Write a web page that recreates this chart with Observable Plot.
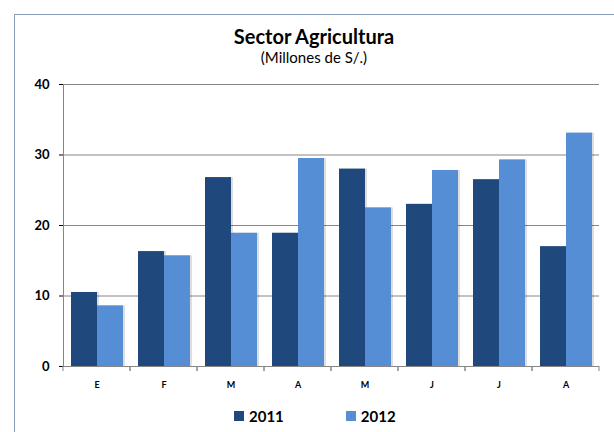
<!DOCTYPE html>
<html><head><meta charset="utf-8">
<script src="https://cdn.jsdelivr.net/npm/d3@7"></script>
<script src="https://cdn.jsdelivr.net/npm/@observablehq/plot@0.6"></script>
<style>
html,body{margin:0;padding:0;background:#fff;overflow:hidden;}
#wrap{position:relative;width:614px;height:432px;overflow:hidden;font-family:Lato,"Open Sans",sans-serif;background:#fff;}
#border{position:absolute;left:14px;top:13.5px;width:700px;height:600px;border:1.5px solid #8a9db8;box-sizing:border-box;}
#chart{position:absolute;left:0;top:0;}
#title{position:absolute;left:0;width:628px;top:24px;line-height:24px;text-align:center;font-weight:bold;font-size:20px;color:#000;}
#sub{position:absolute;left:0;width:628px;top:48px;line-height:18px;text-align:center;font-size:15px;color:#000;}
#legend{position:absolute;top:406px;left:234px;display:flex;align-items:center;font-weight:bold;font-size:15px;line-height:20px;color:#000;}
#legend .sw{display:inline-block;width:10px;height:10px;margin-right:5px;}
#legend .it{display:flex;align-items:center;margin-right:62px;}
</style></head>
<body>
<div id="wrap">
  <div id="border"></div>
  <div id="chart"></div>
  <div id="title">Sector Agricultura</div>
  <div id="sub">(Millones de S/.)</div>
  <div id="legend"></div>
</div>
<script>
const months = ["E","F","M","A","M","J","J","A"];
const years = ["2011","2012"];
const v2011 = [10.5,16.3,26.8,18.9,28.0,23.0,26.5,17.0];
const v2012 = [8.6,15.7,18.9,29.5,22.5,27.8,29.3,33.1];
const colors = ["#1f497d","#558ed5"];
const yTicks = [0,10,20,30,40];

const data = months.flatMap((m,i)=>[
  {i, year:"2011", value:v2011[i]},
  {i, year:"2012", value:v2012[i]}
]);

const gray = "#868686";

// category-boundary tick marks below the x axis, drawn inside each facet at its edges
const boundaryTicks = (index, scales, values, dims) => {
  const g = d3.create("svg:g").attr("stroke", gray);
  const y0 = dims.height - dims.marginBottom;
  const left = dims.marginLeft;
  const right = left + scales.fx.bandwidth();
  for (const x of [left, right]) {
    g.append("line").attr("x1", x).attr("x2", x).attr("y1", y0).attr("y2", y0 + 5);
  }
  return g.node();
};

const plot = Plot.plot({
  width: 614,
  height: 432,
  marginLeft: 61,
  marginRight: 14,
  marginTop: 84,
  marginBottom: 66,
  style: {fontFamily: "Lato, 'Open Sans', sans-serif", background: "transparent", overflow: "hidden"},
  fx: {domain: d3.range(months.length), padding: 0, label: null},
  x: {domain: years, paddingInner: 0, paddingOuter: 0.25, axis: null},
  y: {domain: [0,40], label: null},
  color: {domain: years, range: colors},
  marks: [
    Plot.gridY(yTicks.slice(1), {stroke: gray, strokeOpacity: 1}),
    Plot.barY(data, {fx:"i", x:"year", y:"value", fill:"#000", fillOpacity:0.13, dx:2}),
    Plot.barY(data, {fx:"i", x:"year", y:"value", fill:"year"}),
    Plot.ruleY([0], {stroke: gray}),
    Plot.axisY({ticks: yTicks, tickSize: 4, tickPadding: 10, fontSize: 13, fontWeight: "bold", color: "#000", label: null}),
    Plot.axisFx({anchor: "bottom", tickSize: 0, tickPadding: 15, fontSize: 9, fontWeight: "bold", tickFormat: i => months[i], label: null}),
    Plot.frame({anchor: "left", stroke: gray, facetAnchor: "left"}),
    boundaryTicks
  ]
});
plot.querySelectorAll('g[aria-label="y-axis tick"]').forEach(g => g.setAttribute("stroke", gray));
document.getElementById("chart").appendChild(plot);

const leg = document.getElementById("legend");
years.forEach((y,k)=>{
  const it = document.createElement("span");
  it.className = "it";
  const sw = document.createElement("span");
  sw.className = "sw";
  sw.style.background = colors[k];
  it.appendChild(sw);
  it.appendChild(document.createTextNode(y));
  leg.appendChild(it);
});
</script>
</body></html>
